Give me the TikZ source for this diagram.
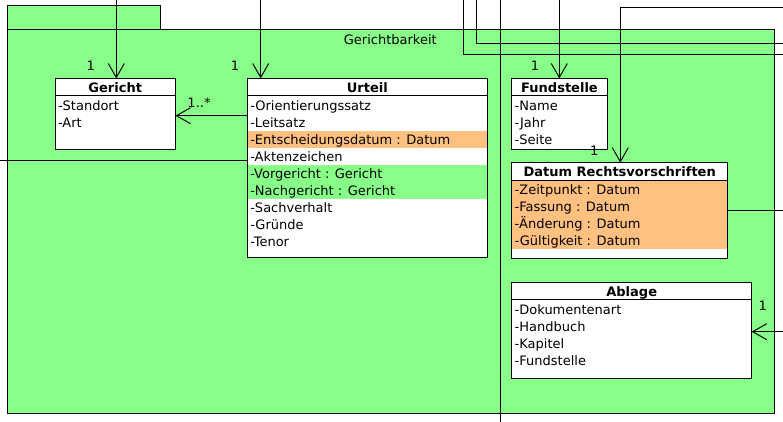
\documentclass[tikz,border=0pt]{standalone}
\usepackage{fontspec}
\setmainfont{DejaVu Sans}
\usetikzlibrary{arrows.meta}
\definecolor{pkggreen}{RGB}{136,255,136}
\definecolor{attrorange}{RGB}{255,192,128}
\begin{document}
\begin{tikzpicture}[x=1pt,y=-1pt,line width=1pt,
  every node/.style={font=\fontsize{13}{15}\selectfont, inner sep=0pt},
  umlbox/.style={draw, fill=white, anchor=north west, minimum width=#1, line width=1pt, outer sep=0pt},
  hdr/.style={anchor=base, font=\fontsize{13}{15}\selectfont\bfseries},
  attr/.style={anchor=base west},
  mult/.style={anchor=base},
  assoc/.style={-{Straight Barb[length=14pt,width=16pt]}}]
\useasboundingbox (0,0) rectangle (783,422);
% package
\path[draw, fill=pkggreen] (7,6) rectangle (160,30);
\node[draw, fill=pkggreen, anchor=north west, outer sep=0pt, minimum width=767.3pt, minimum height=383.3pt] (pkg) at (7,30) {};
\node[mult] (pkglabel) at (390.3,44.3) {Gerichtbarkeit};
% Gericht
\node[umlbox=120.5pt, minimum height=71.5pt] (gericht) at (55,78.5) {};
\draw ([yshift=-17pt]gericht.north west) -- ([yshift=-17pt]gericht.north east);
\node[hdr] (gericht-h) at (115.25,92.5) {Gericht};
\node[attr] (gericht-1) at (57.5,110.25) {-Standort};
\node[attr] (gericht-2) at (57.5,127.25) {-Art};
% Urteil
\node[umlbox=240pt, minimum height=179.2pt] (urteil) at (247.3,78.5) {};
\fill[attrorange] (247.8,131) rectangle (486.8,148);
\fill[pkggreen] (247.8,165) rectangle (486.8,199);
\draw (urteil.north west) rectangle (urteil.south east);
\draw ([yshift=-17pt]urteil.north west) -- ([yshift=-17pt]urteil.north east);
\node[hdr] (urteil-h) at (367.3,92.5) {Urteil};
\node[attr] (urteil-1) at (249.8,110.25) {-Orientierungssatz};
\node[attr] (urteil-2) at (249.8,127.25) {-Leitsatz};
\node[attr] (urteil-3) at (249.8,144.25) {-Entscheidungsdatum : Datum};
\node[attr] (urteil-4) at (249.8,161.25) {-Aktenzeichen};
\node[attr] (urteil-5) at (249.8,178.25) {-Vorgericht : Gericht};
\node[attr] (urteil-6) at (249.8,195.25) {-Nachgericht : Gericht};
\node[attr] (urteil-7) at (249.8,212.25) {-Sachverhalt};
\node[attr] (urteil-8) at (249.8,229.25) {-Gründe};
\node[attr] (urteil-9) at (249.8,246.25) {-Tenor};
% Fundstelle
\node[umlbox=95.6pt, minimum height=71.5pt] (fund) at (511.7,78.5) {};
\draw ([yshift=-17pt]fund.north west) -- ([yshift=-17pt]fund.north east);
\node[hdr] (fund-h) at (559.5,92.5) {Fundstelle};
\node[attr] (fund-1) at (514.2,110.25) {-Name};
\node[attr] (fund-2) at (514.2,127.25) {-Jahr};
\node[attr] (fund-3) at (514.2,144.25) {-Seite};
% Datum Rechtsvorschriften
\node[umlbox=216pt, minimum height=95.6pt] (drv) at (511.7,162.7) {};
\fill[attrorange] (512.2,181.3) rectangle (727.2,249);
\draw (drv.north west) rectangle (drv.south east);
\draw ([yshift=-17.3pt]drv.north west) -- ([yshift=-17.3pt]drv.north east);
\node[hdr] (drv-h) at (619.7,176.7) {Datum Rechtsvorschriften};
\node[attr] (drv-1) at (514.2,194.75) {-Zeitpunkt : Datum};
\node[attr] (drv-2) at (514.2,211.75) {-Fassung : Datum};
\node[attr] (drv-3) at (514.2,228.75) {-Änderung : Datum};
\node[attr] (drv-4) at (514.2,245.75) {-Gültigkeit : Datum};
% Ablage
\node[umlbox=240pt, minimum height=95.6pt] (ablage) at (511.7,282.7) {};
\draw ([yshift=-17pt]ablage.north west) -- ([yshift=-17pt]ablage.north east);
\node[hdr] (ablage-h) at (631.7,296.7) {Ablage};
\node[attr] (ablage-1) at (514.2,314.75) {-Dokumentenart};
\node[attr] (ablage-2) at (514.2,331.75) {-Handbuch};
\node[attr] (ablage-3) at (514.2,348.75) {-Kapitel};
\node[attr] (ablage-4) at (514.2,365.75) {-Fundstelle};
% connectors
\coordinate (gtop) at (116.3,0);
\draw[assoc] (gtop) -- (gtop |- gericht.north);
\node[mult] (m1) at (90.7,71) {1};
\coordinate (utop) at (260.7,0);
\draw[assoc] (utop) -- (utop |- urteil.north);
\node[mult] (m2) at (235,71) {1};
\coordinate (ua) at (247.3,115.7);
\draw[assoc] (ua) -- (ua -| gericht.east);
\node[mult] (m3) at (199,107.3) {1..*};
\coordinate (lf) at (0,160.5);
\draw (lf) -- (lf -| urteil.west);
\coordinate (va) at (500,0);
\coordinate (vb) at (500,422);
\draw (va) -- (vb);
\coordinate (wa) at (463,0);
\coordinate (wb) at (783,55);
\draw (wa) |- (wb);
\coordinate (xa) at (476.7,0);
\coordinate (xb) at (783,43.3);
\draw (xa) |- (xb);
\coordinate (ftop) at (559.3,0);
\draw[assoc] (ftop) -- (ftop |- fund.north);
\node[mult] (m4) at (535,71) {1};
\coordinate (da) at (783,7.3);
\coordinate (db) at (620.3,7.3);
\draw[assoc] (da) -- (db) -- (db |- drv.north);
\node[mult] (m5) at (594.3,155) {1};
\coordinate (dr) at (783,210.5);
\draw (drv.east) -- (dr);
\coordinate (ar) at (783,331.7);
\draw[assoc] (ar) -- (ar -| ablage.east);
\node[mult] (m6) at (762.7,310.7) {1};
\end{tikzpicture}
\end{document}
